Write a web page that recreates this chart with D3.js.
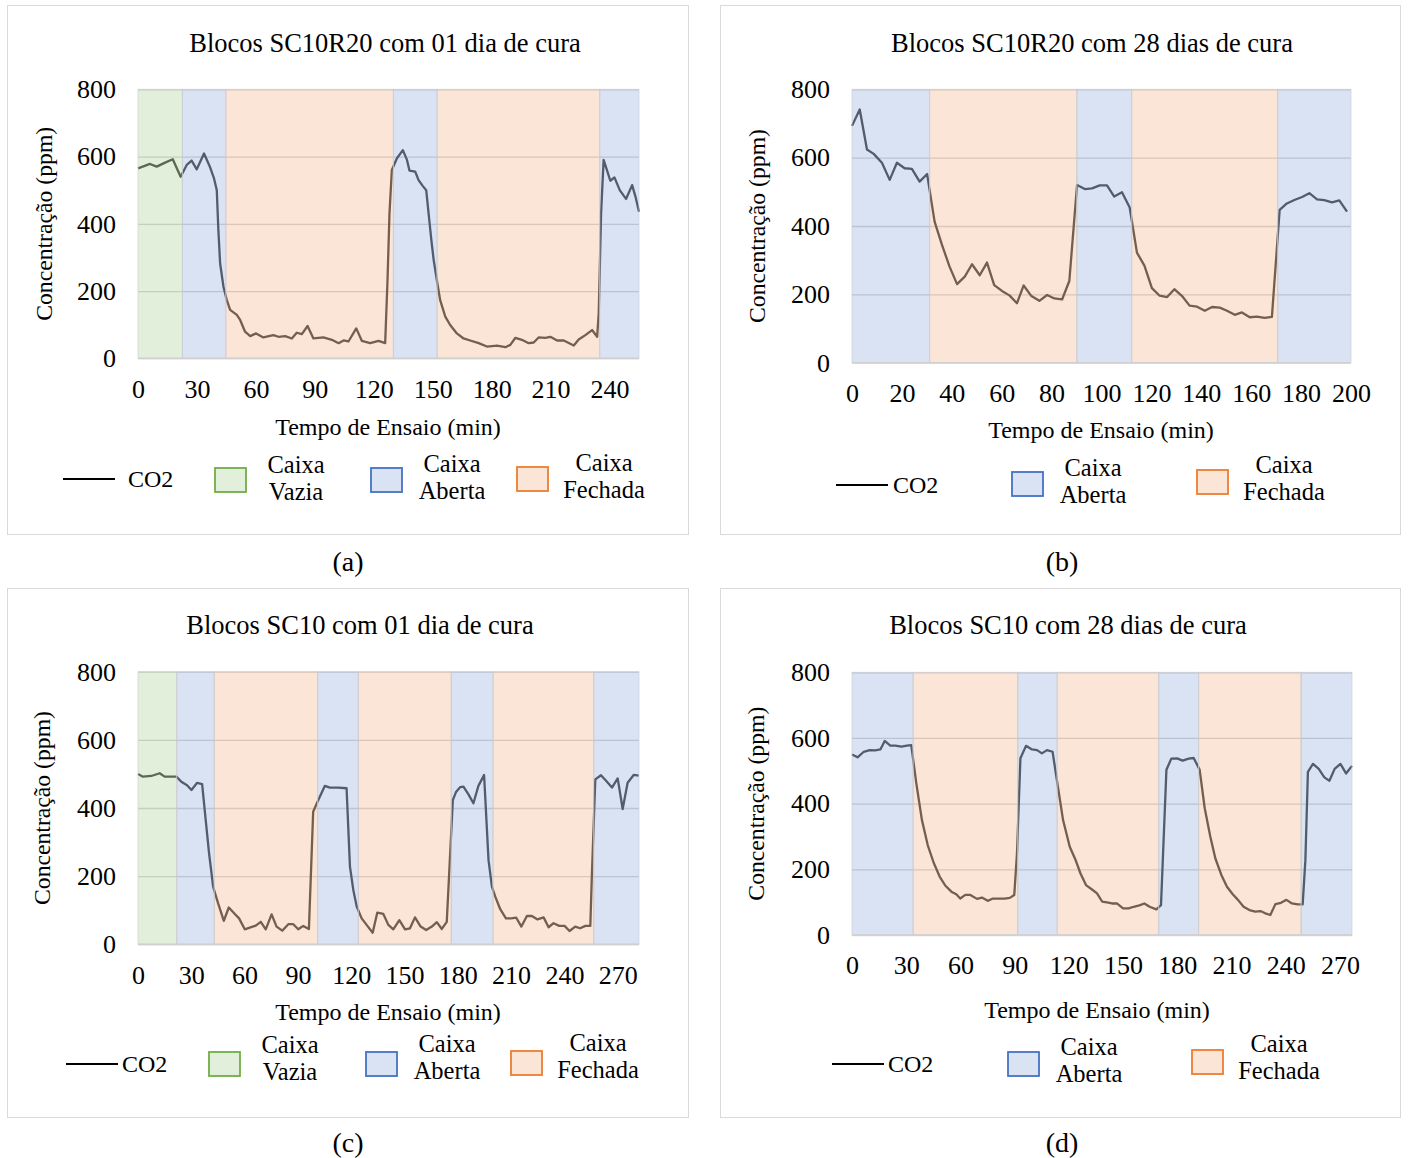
<!DOCTYPE html>
<html>
<head>
<meta charset="utf-8">
<script src="https://cdn.jsdelivr.net/npm/d3@7"></script>
<style>
  body { margin: 0; background: #fff; }
  text { font-family: "Liberation Serif", "Times New Roman", serif; fill: #000; }
</style>
</head>
<body>
<script>
// ---- data ----
const yTicks = [0, 200, 400, 600, 800];

// (a) Blocos SC10R20 com 01 dia de cura
const timeA = [0, 6.1, 9.5, 13.8, 17.7, 21.7, 24.8, 27.3, 29.9, 33.6, 36.7, 38.7, 40.1, 40.9, 41.8, 43.5, 45.2, 46.9, 50.3, 52, 54.5, 57.1, 60.1, 63.8, 68.9, 71.5, 74.9, 78.3, 80.8, 83.4, 86.3, 89.3, 94.4, 98.7, 102.1, 104.6, 107.1, 111.1, 113.9, 118.2, 122.4, 125.8, 127, 128, 129.2, 131.8, 134.8, 136.9, 138.2, 141.1, 142.8, 145, 146.7, 147.9, 149.3, 150.5, 152.1, 153.8, 156.4, 158.9, 162.3, 165.7, 169.1, 173.4, 177.6, 182.7, 187, 189.5, 192.1, 195.4, 198.8, 201.4, 203.9, 207.3, 209.9, 213.3, 216.7, 221.8, 224.3, 227.7, 231.1, 233.7, 234.5, 235.7, 237, 238.4, 240.4, 242.5, 245.2, 248.4, 251.5, 253.2, 255];
const co2A = [565, 578, 570, 582, 592, 540, 575, 588, 562, 609, 568, 535, 500, 382, 282, 213, 173, 144, 129, 114, 79, 66, 74, 62, 69, 64, 66, 59, 76, 72, 96, 59, 62, 55, 45, 53, 50, 89, 52, 45, 52, 45, 233, 431, 560, 595, 619, 590, 558, 555, 530, 512, 500, 431, 352, 292, 233, 173, 124, 99, 74, 59, 53, 45, 35, 38, 33, 40, 61, 55, 45, 47, 62, 61, 64, 53, 53, 38, 56, 69, 84, 64, 134, 431, 590, 565, 528, 538, 500, 474, 515, 481, 436];
const bandEdgesA = [0, 22.6, 44.7, 130, 152.2, 235, 255];
const bandTypesA = ["vazia", "aberta", "fechada", "aberta", "fechada", "aberta"];
const xTicksA = [0, 30, 60, 90, 120, 150, 180, 210, 240];

// (b) Blocos SC10R20 com 28 dias de cura
const timeB = [0, 3.1, 6, 8.7, 12, 15.1, 18, 21.1, 24, 27.1, 30.1, 33.1, 36.1, 39.1, 42.1, 45.2, 48.1, 51.2, 54.1, 57, 60.1, 63.1, 66.1, 68.8, 71.9, 75.1, 78.2, 81.1, 84.2, 87.1, 90.2, 93.3, 96.2, 99.3, 102.2, 105.1, 108.2, 111.3, 114.2, 117.2, 120.2, 123.3, 126.3, 129.2, 132.3, 135.3, 138.3, 141.4, 144.3, 147.4, 150.3, 153.4, 156.3, 159.4, 162.3, 165.4, 168.3, 171.4, 174.3, 177.3, 180.4, 183.3, 186.4, 189.3, 192.4, 195.3, 198.4];
const co2B = [693, 741, 624, 611, 585, 535, 585, 569, 567, 530, 552, 413, 344, 281, 230, 252, 288, 256, 293, 227, 210, 197, 174, 226, 195, 181, 198, 188, 185, 239, 520, 508, 510, 519, 519, 486, 499, 454, 322, 284, 218, 196, 192, 215, 195, 167, 164, 152, 163, 161, 152, 140, 147, 133, 135, 131, 134, 447, 466, 476, 485, 496, 478, 476, 469, 475, 442];
const bandEdgesB = [0, 31.1, 90.1, 112.1, 170.6, 200];
const bandTypesB = ["aberta", "fechada", "aberta", "fechada", "aberta"];
const xTicksB = [0, 20, 40, 60, 80, 100, 120, 140, 160, 180, 200];

// (c) Blocos SC10 com 01 dia de cura
const timeC = [0, 2.8, 7.5, 12.2, 15, 18.8, 21.6, 24.4, 27.6, 30.1, 33.3, 36.1, 38.1, 40, 42.3, 45.1, 48.3, 51.1, 54.5, 56.9, 60.1, 62.9, 66.3, 69.1, 71.9, 75.2, 78, 81.2, 84.6, 87.4, 90.2, 93, 96.2, 98.6, 101.1, 105.2, 108, 112.7, 117.4, 119.3, 121.2, 123.1, 125.9, 129.1, 132.1, 134.7, 138.1, 140.9, 143.7, 147.1, 150.3, 153.1, 155.9, 159.1, 162.2, 165.4, 168.2, 171, 173.8, 177.2, 179.1, 181.3, 183.2, 186, 188.8, 191.6, 194.8, 197.3, 199.2, 201.1, 203.9, 207.1, 210.1, 212.9, 215.8, 218.9, 221.7, 224.9, 228.3, 231.1, 233.9, 237.1, 240.1, 242.9, 246.1, 248.9, 251.8, 254.6, 255.5, 257.4, 260.6, 263.6, 266.8, 270, 272.8, 275.6, 279, 281.9];
const co2C = [500, 492, 494, 502, 492, 492, 492, 477, 467, 453, 474, 470, 365, 267, 169, 120, 69, 108, 89, 76, 44, 49, 55, 66, 44, 88, 52, 40, 59, 59, 44, 54, 45, 389, 419, 465, 460, 460, 458, 228, 159, 111, 76, 54, 34, 93, 89, 57, 44, 71, 44, 47, 79, 52, 42, 52, 65, 45, 66, 423, 448, 461, 463, 440, 414, 465, 497, 247, 169, 140, 103, 76, 76, 78, 52, 83, 83, 73, 79, 50, 62, 54, 54, 39, 52, 47, 54, 54, 208, 484, 496, 479, 460, 487, 397, 474, 497, 495];
const bandEdgesC = [0, 21.8, 42.9, 101.1, 124, 176.3, 199.8, 256.5, 282];
const bandTypesC = ["vazia", "aberta", "fechada", "aberta", "fechada", "aberta", "fechada", "aberta"];
const xTicksC = [0, 30, 60, 90, 120, 150, 180, 210, 240, 270];

// (d) Blocos SC10 com 28 dias de cura
const timeD = [0, 3.1, 6.5, 9.8, 12.9, 15.7, 18.1, 21.2, 24, 27.3, 30.4, 32.8, 35.6, 38.7, 41.9, 45.2, 48.5, 51.7, 55, 57.7, 59.9, 62.7, 65.5, 69.2, 71.9, 75.1, 78, 81.2, 84.5, 87.3, 89.8, 91.3, 93.2, 96.3, 99.6, 102.4, 105.1, 107.9, 111, 113.1, 116.8, 120.5, 123.6, 126.4, 129.5, 133.2, 135.6, 138.4, 141.1, 143.9, 146.6, 150, 153.1, 155.9, 159, 161.8, 164.7, 168.4, 171, 174, 176.7, 179.9, 183, 186.3, 189.1, 192.4, 195.2, 198.3, 201.1, 204.4, 207.5, 210.7, 213.6, 216.7, 219.9, 223.2, 226, 228.7, 231.5, 234.3, 237.4, 240.4, 243.5, 246.6, 249.4, 250.9, 252.3, 255.1, 258.3, 261.4, 264.2, 267.1, 270.3, 273.4, 276.7];
const co2D = [550, 541, 558, 563, 562, 565, 591, 577, 577, 574, 577, 578, 462, 350, 274, 220, 178, 150, 132, 124, 111, 122, 122, 110, 114, 104, 111, 111, 111, 113, 122, 249, 538, 576, 565, 563, 553, 563, 558, 482, 350, 269, 230, 188, 152, 137, 127, 102, 99, 96, 96, 81, 81, 86, 90, 96, 86, 78, 91, 503, 537, 538, 531, 537, 539, 503, 386, 299, 233, 183, 147, 124, 107, 86, 76, 71, 73, 66, 61, 94, 98, 107, 96, 93, 93, 228, 497, 521, 506, 480, 470, 506, 521, 492, 515];
const bandEdgesD = [0, 33.8, 91.7, 113.5, 169.7, 191.8, 248.5, 276.7];
const bandTypesD = ["aberta", "fechada", "aberta", "fechada", "aberta", "fechada", "aberta"];
const xTicksD = [0, 30, 60, 90, 120, 150, 180, 210, 240, 270];

const bandColors = { vazia: "#70AD47", aberta: "#4472C4", fechada: "#ED7D31" };
const bandLabels = { vazia: ["Caixa", "Vazia"], aberta: ["Caixa", "Aberta"], fechada: ["Caixa", "Fechada"] };

// ---- layout ----
const panels = [
  { label: "(a)", title: "Blocos SC10R20 com 01 dia de cura", time: timeA, co2: co2A, edges: bandEdgesA, types: bandTypesA, ticks: xTicksA,
    frame: [7, 5, 681, 529], plot: [138, 639, 89.3, 358.3], titleXY: [385, 52], yTitleX: 44, xTitleXY: [388, 435], labelXY: [348, 571],
    legend: { line: [63, 115, 479], co2X: 128, boxes: [[215, 468, 296, 464], [371, 468, 452, 463], [517, 467, 604, 462]] } },
  { label: "(b)", title: "Blocos SC10R20 com 28 dias de cura", time: timeB, co2: co2B, edges: bandEdgesB, types: bandTypesB, ticks: xTicksB,
    frame: [720, 5, 680, 529], plot: [852, 1351, 89.3, 362.7], titleXY: [1092, 52], yTitleX: 757, xTitleXY: [1101, 438], labelXY: [1062, 571],
    legend: { line: [836, 888, 485], co2X: 893, boxes: [[1012, 472, 1093, 467], [1197, 470, 1284, 464]] } },
  { label: "(c)", title: "Blocos SC10 com 01 dia de cura", time: timeC, co2: co2C, edges: bandEdgesC, types: bandTypesC, ticks: xTicksC,
    frame: [7, 588, 681, 529], plot: [138, 639, 671.7, 944.3], titleXY: [360, 634], yTitleX: 42, xTitleXY: [388, 1020], labelXY: [348, 1152],
    legend: { line: [66, 118, 1064], co2X: 122, boxes: [[209, 1052, 290, 1044], [366, 1052, 447, 1043], [511, 1051, 598, 1042]] } },
  { label: "(d)", title: "Blocos SC10 com 28 dias de cura", time: timeD, co2: co2D, edges: bandEdgesD, types: bandTypesD, ticks: xTicksD,
    frame: [720, 588, 680, 529], plot: [852, 1352, 672.3, 935], titleXY: [1068, 634], yTitleX: 756, xTitleXY: [1097, 1018], labelXY: [1062, 1152],
    legend: { line: [832, 884, 1064], co2X: 888, boxes: [[1008, 1052, 1089, 1046], [1192, 1050, 1279, 1043]] } }
];

const svg = d3.select("body").append("svg")
  .attr("width", 1408)
  .attr("height", 1158)
  .style("display", "block");

svg.append("rect").attr("width", 1408).attr("height", 1158).attr("fill", "#fff");

panels.forEach(p => drawPanel(p));

function drawPanel(p) {
  const [left, right, top, bottom] = p.plot;
  const g = svg.append("g");

  g.append("rect")
    .attr("x", p.frame[0] + 0.5).attr("y", p.frame[1] + 0.5)
    .attr("width", p.frame[2]).attr("height", p.frame[3])
    .attr("fill", "#fff").attr("stroke", "#d9d9d9");

  const x = d3.scaleLinear().domain([0, d3.max(p.edges)]).range([left, right]);
  const y = d3.scaleLinear().domain([0, 800]).range([bottom, top]);

  // gridlines
  g.append("g")
    .attr("transform", `translate(${left},0)`)
    .call(d3.axisLeft(y).tickValues(yTicks).tickSize(-(right - left)).tickFormat(""))
    .call(a => a.select(".domain").remove())
    .call(a => a.selectAll("line").attr("stroke", "#d9d9d9").attr("stroke-width", 1.3));

  // y tick labels
  g.append("g")
    .attr("transform", `translate(${left - 22},0)`)
    .call(d3.axisLeft(y).tickValues(yTicks).tickSize(0).tickPadding(0))
    .call(a => a.select(".domain").remove())
    .call(a => a.selectAll("text")
      .style("font-family", '"Liberation Serif", serif')
      .style("font-size", "26px")
      .attr("fill", "#000"));

  // x tick labels
  g.append("g")
    .attr("transform", `translate(0,${bottom + 21})`)
    .call(d3.axisBottom(x).tickValues(p.ticks).tickSize(0).tickPadding(0))
    .call(a => a.select(".domain").remove())
    .call(a => a.selectAll("text")
      .style("font-family", '"Liberation Serif", serif')
      .style("font-size", "26px")
      .attr("dy", "0.71em")
      .attr("fill", "#000"));

  // CO2 line
  const pts = p.time.map((t, i) => [t, p.co2[i]]);
  g.append("path")
    .datum(pts)
    .attr("fill", "none")
    .attr("stroke", "#575757")
    .attr("stroke-width", 2.3)
    .attr("stroke-linejoin", "round")
    .attr("d", d3.line().x(d => x(d[0])).y(d => y(d[1])));

  // bands on top, translucent
  const bands = p.types.map((type, i) => ({ type, x0: p.edges[i], x1: p.edges[i + 1] }));
  g.selectAll(".band").data(bands).join("rect")
    .attr("class", "band")
    .attr("x", d => x(d.x0))
    .attr("y", top)
    .attr("width", d => x(d.x1) - x(d.x0))
    .attr("height", bottom - top)
    .attr("fill", d => bandColors[d.type])
    .attr("fill-opacity", 0.2)
    .attr("stroke", "#c9ccd2")
    .attr("stroke-opacity", 0.6)
    .attr("stroke-width", 1);

  // bottom axis line
  g.append("line")
    .attr("x1", left).attr("x2", right)
    .attr("y1", bottom).attr("y2", bottom)
    .attr("stroke", "#d0d0d0").attr("stroke-width", 1.5);

  // titles
  g.append("text")
    .attr("x", p.titleXY[0]).attr("y", p.titleXY[1])
    .attr("text-anchor", "middle")
    .style("font-size", "26.5px")
    .text(p.title);

  g.append("text")
    .attr("transform", `translate(${p.yTitleX},${(top + bottom) / 2}) rotate(-90)`)
    .attr("text-anchor", "middle")
    .attr("dy", "0.35em")
    .style("font-size", "23.7px")
    .text("Concentração (ppm)");

  g.append("text")
    .attr("x", p.xTitleXY[0]).attr("y", p.xTitleXY[1])
    .attr("text-anchor", "middle")
    .style("font-size", "24px")
    .text("Tempo de Ensaio (min)");

  // legend
  const lg = p.legend;
  g.append("line")
    .attr("x1", lg.line[0]).attr("x2", lg.line[1])
    .attr("y1", lg.line[2]).attr("y2", lg.line[2])
    .attr("stroke", "#000").attr("stroke-width", 2.2);
  g.append("text")
    .attr("x", lg.co2X).attr("y", lg.line[2])
    .attr("dy", "0.35em")
    .style("font-size", "24px")
    .text("CO2");

  const order = ["vazia", "aberta", "fechada"];
  const legendTypes = Array.from(new Set(p.types)).sort((a, b) => order.indexOf(a) - order.indexOf(b));
  legendTypes.forEach((type, i) => {
    const [bx, by, tx, ty] = lg.boxes[i];
    g.append("rect")
      .attr("x", bx).attr("y", by)
      .attr("width", 31).attr("height", 24)
      .attr("fill", bandColors[type]).attr("fill-opacity", 0.2)
      .attr("stroke", bandColors[type]).attr("stroke-width", 1.8);
    bandLabels[type].forEach((s, j) => {
      g.append("text")
        .attr("x", tx).attr("y", ty + j * 27)
        .attr("dy", "0.35em")
        .attr("text-anchor", "middle")
        .style("font-size", "24.5px")
        .text(s);
    });
  });

  // sub-figure label
  svg.append("text")
    .attr("x", p.labelXY[0]).attr("y", p.labelXY[1])
    .attr("text-anchor", "middle")
    .style("font-size", "28px")
    .text(p.label);
}
</script>
</body>
</html>
